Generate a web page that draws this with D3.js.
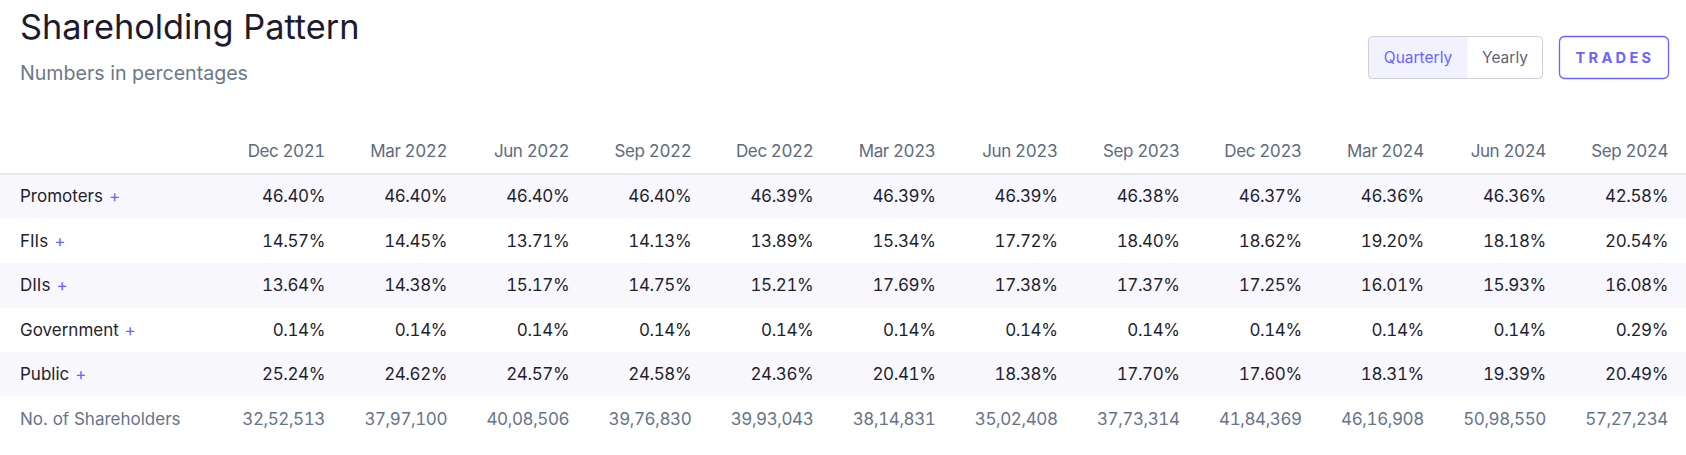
<!DOCTYPE html>
<html>
<head>
<meta charset="utf-8">
<script src="https://cdn.jsdelivr.net/npm/d3@7"></script>
<style>
    body { margin: 0; background: #fff; font-family: Inter, "Noto Sans", sans-serif; }
    .num { font-variant-numeric: tabular-nums; letter-spacing: -0.4px; }
</style>
</head>
<body>
<div class="canvas"></div>
<script>
const quarters = ["Dec 2021", "Mar 2022", "Jun 2022", "Sep 2022", "Dec 2022", "Mar 2023",
    "Jun 2023", "Sep 2023", "Dec 2023", "Mar 2024", "Jun 2024", "Sep 2024"];
const holders = ["Promoters", "FIIs", "DIIs", "Government", "Public"];
const promoters = [46.40, 46.40, 46.40, 46.40, 46.39, 46.39, 46.39, 46.38, 46.37, 46.36, 46.36, 42.58];
const fiis = [14.57, 14.45, 13.71, 14.13, 13.89, 15.34, 17.72, 18.40, 18.62, 19.20, 18.18, 20.54];
const diis = [13.64, 14.38, 15.17, 14.75, 15.21, 17.69, 17.38, 17.37, 17.25, 16.01, 15.93, 16.08];
const government = [0.14, 0.14, 0.14, 0.14, 0.14, 0.14, 0.14, 0.14, 0.14, 0.14, 0.14, 0.29];
const publicShare = [25.24, 24.62, 24.57, 24.58, 24.36, 20.41, 18.38, 17.70, 17.60, 18.31, 19.39, 20.49];
const shareholders = [3252513, 3797100, 4008506, 3976830, 3993043, 3814831,
    3502408, 3773314, 4184369, 4616908, 5098550, 5727234];

const width = 1686, height = 455;
let accent = "rgb(108, 99, 255)";

const rows = [
    { name: holders[0], values: promoters },
    { name: holders[1], values: fiis },
    { name: holders[2], values: diis },
    { name: holders[3], values: government },
    { name: holders[4], values: publicShare },
];

// indian digit grouping, 32,52,513
function indian(n) {
    let s = String(n);
    let last = s.slice(-3);
    let rest = s.slice(0, -3);
    if (rest) last = "," + last;
    return rest.replace(/\B(?=(\d{2})+(?!\d))/g, ",") + last;
}

const svg = d3.select(".canvas")
    .append("svg")
    .attr("width", width)
    .attr("height", height)
    .style("display", "block");

// header
svg.append("text")
    .attr("x", 20)
    .attr("y", 39)
    .attr("font-size", 34.3)
    .attr("fill", "#1c1b2e")
    .text("Shareholding Pattern");

svg.append("text")
    .attr("x", 20)
    .attr("y", 80)
    .attr("font-size", 19.6)
    .attr("fill", "#6b788c")
    .text("Numbers in percentages");

// toggle buttons
const toggle = svg.append("g");
toggle.append("rect")
    .attr("x", 1368.5).attr("y", 36.5)
    .attr("width", 99).attr("height", 42)
    .attr("fill", "#f2f2fe");
toggle.append("rect")
    .attr("x", 1368.5).attr("y", 36.5)
    .attr("width", 174).attr("height", 42)
    .attr("rx", 4)
    .attr("fill", "none")
    .attr("stroke", "#cdd0d8");
toggle.append("text")
    .attr("x", 1418).attr("y", 57.5)
    .attr("dy", "0.35em")
    .attr("text-anchor", "middle")
    .attr("font-size", 15.5)
    .attr("fill", accent)
    .text("Quarterly");
toggle.append("text")
    .attr("x", 1505).attr("y", 57.5)
    .attr("dy", "0.35em")
    .attr("text-anchor", "middle")
    .attr("font-size", 15.5)
    .attr("fill", "#5c6675")
    .text("Yearly");

svg.append("rect")
    .attr("x", 1559.5).attr("y", 36.5)
    .attr("width", 109).attr("height", 42)
    .attr("rx", 5)
    .attr("fill", "#fff")
    .attr("stroke", accent)
    .attr("stroke-width", 1.3);
svg.append("text")
    .attr("x", 1615).attr("y", 57.5)
    .attr("dy", "0.35em")
    .attr("text-anchor", "middle")
    .attr("font-size", 14.6)
    .attr("font-weight", 700)
    .attr("letter-spacing", 3.3)
    .attr("fill", accent)
    .text("TRADES");

// table scales
const x = d3.scalePoint().domain(quarters).range([325, 1668]);
const y = d3.scaleBand()
    .domain(holders.concat(["No. of Shareholders"]))
    .range([174, 174 + 6 * 44.5]);

// column headers
svg.append("g")
    .selectAll("text")
    .data(quarters)
    .enter()
    .append("text")
    .attr("class", "num")
    .attr("x", (d) => x(d))
    .attr("y", 151.5)
    .attr("dy", "0.35em")
    .attr("text-anchor", "end")
    .attr("font-size", 17)
    .attr("fill", "#5d6b7e")
    .text((d) => d);

// row stripes
svg.append("g")
    .selectAll("rect")
    .data(rows.filter((d, i) => i % 2 === 0))
    .enter()
    .append("rect")
    .attr("x", 0)
    .attr("y", (d) => y(d.name))
    .attr("width", width)
    .attr("height", y.bandwidth())
    .attr("fill", "#f7f7fc");

svg.append("line")
    .attr("x1", 0).attr("x2", width)
    .attr("y1", 174).attr("y2", 174)
    .attr("stroke", "#dce3ec")
    .attr("stroke-width", 1.5);

const rowGroups = svg.append("g")
    .selectAll("g")
    .data(rows)
    .enter()
    .append("g")
    .attr("transform", (d) => `translate(0,${y(d.name) + y.bandwidth() / 2})`);

const label = rowGroups.append("text")
    .attr("x", 20)
    .attr("dy", "0.35em")
    .attr("font-size", 17)
    .attr("fill", "#1f1f2e");
label.append("tspan").text((d) => d.name);
label.append("tspan")
    .attr("fill", accent)
    .attr("dx", 6)
    .text("+");

rowGroups.selectAll(".val")
    .data((d) => d.values)
    .enter()
    .append("text")
    .attr("class", "val num")
    .attr("x", (d, i) => x(quarters[i]))
    .attr("dy", "0.35em")
    .attr("text-anchor", "end")
    .attr("font-size", 17)
    .attr("fill", "#1f1f2e")
    .text((d) => d.toFixed(2) + "%");

// shareholders count row
const countRow = svg.append("g")
    .attr("transform", `translate(0,${y("No. of Shareholders") + y.bandwidth() / 2})`);
countRow.append("text")
    .attr("x", 20)
    .attr("dy", "0.35em")
    .attr("font-size", 17)
    .attr("fill", "#66748a")
    .text("No. of Shareholders");
countRow.selectAll(".count")
    .data(shareholders)
    .enter()
    .append("text")
    .attr("class", "count num")
    .attr("x", (d, i) => x(quarters[i]))
    .attr("dy", "0.35em")
    .attr("text-anchor", "end")
    .attr("font-size", 17)
    .attr("fill", "#66748a")
    .text((d) => indian(d));
</script>
</body>
</html>
